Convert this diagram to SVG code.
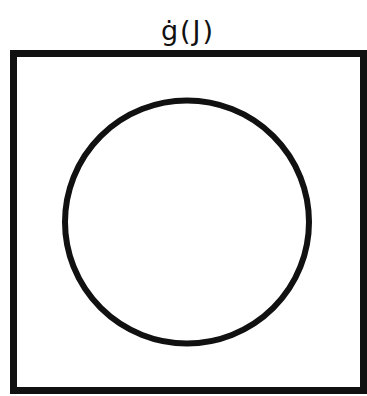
<svg xmlns="http://www.w3.org/2000/svg" width="367" height="396" viewBox="0 0 367 396">
<style>
.line{fill:none;stroke:#111;}
.lbl{font-family:"DejaVu Sans","Liberation Sans",sans-serif;font-size:27px;fill:#111;text-anchor:middle;}
</style>
<rect width="367" height="396" fill="#fff"/>
<g id="frame">
<rect class="line" x="13.5" y="53.5" width="350" height="337" stroke-width="7"/>
<text class="lbl" x="188" y="40" letter-spacing="2">ġ(J)</text>
</g>
<g id="circle">
<ellipse class="line" cx="187" cy="222" rx="122" ry="121.5" stroke-width="6"/>
</g>
<g id="connectors"></g>
</svg>
